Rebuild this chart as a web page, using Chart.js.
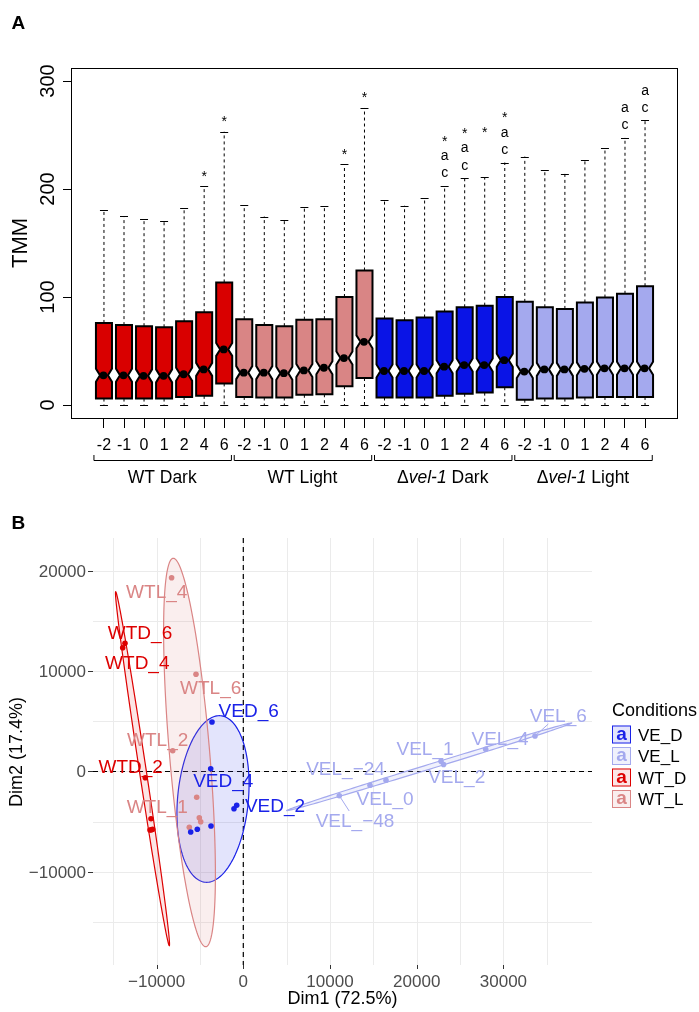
<!DOCTYPE html>
<html><head><meta charset="utf-8">
<script src="https://cdn.jsdelivr.net/npm/chart.js@4.4.1/dist/chart.umd.min.js"></script>
<style>
html,body{margin:0;padding:0;background:#fff;overflow:hidden;}
#ca{position:absolute;left:0;top:0;}
#cb{position:absolute;left:0;top:500px;}
</style></head><body>
<canvas id="ca" width="699" height="500" style="width:699px;height:500px"></canvas>
<canvas id="cb" width="699" height="512" style="width:699px;height:512px"></canvas>
<script>
const FONT = '"Liberation Sans", Arial, Helvetica, sans-serif';

// ---------------- Panel A data ----------------
const groupNames = ["WT Dark", "WT Light", "Δvel-1 Dark", "Δvel-1 Light"];
const timePoints = ["-2", "-1", "0", "1", "2", "4", "6"];
const boxQ1 = [6, 6, 6, 6, 7.5, 8.5, 20,  7.5, 7, 7, 9.5, 10, 17.5, 25,  7, 7, 7, 8.5, 10.5, 11.5, 16.5,  5, 6, 6, 7, 7.5, 7.5, 7.5];
const boxMedian = [27.5, 27.5, 27, 27, 28.5, 33, 51.5,  30, 30, 29.5, 32, 34.5, 43.5, 58.5,  31.5, 31.5, 31.5, 35.5, 37, 37, 41.5,  31, 33, 33, 33.5, 34, 34, 34];
const boxQ3 = [76, 74, 73, 72, 77.5, 86, 113.5,  79.5, 74, 73, 79, 79.5, 100, 124.5,  80, 78.5, 81, 86.5, 90.5, 92, 100,  95.5, 90.5, 89, 95, 99.5, 103, 110];
const whiskerLow = [0, 0, 0, 0, 0, 0, 0,  0, 0, 0, 0, 0, 0, 0,  0, 0, 0, 0, 0, 0, 0,  0, 0, 0, 0, 0, 0, 0];
const whiskerHigh = [181, 175, 172.5, 170.5, 182, 202.5, 253,  185, 174.5, 171.5, 183.5, 184, 223, 275,  190, 184.5, 191.5, 203, 210, 211, 224.5,  230, 217.5, 214, 226.5, 237.5, 247.5, 263.5];
const sigLabels = ["", "", "", "", "", "*", "*",  "", "", "", "", "", "*", "*",  "", "", "", "*\na\nc", "*\na\nc", "*\n\n", "*\na\nc",  "", "", "", "", "", "a\nc", "a\nc"];
const yTicksA = [0, 100, 200, 300];
const boxColors = ["#D90000", "#D98585", "#0A14E6", "#A4A9EE"];

// ---------------- Panel B data ----------------
const conditions = ["VE_D", "VE_L", "WT_D", "WT_L"];
const condColors = ["#1A22E8", "#A4A9EE", "#DD0000", "#DA8585"];
const condFills = ["rgba(26,34,232,0.12)", "rgba(164,169,238,0.16)", "rgba(221,0,0,0.10)", "rgba(218,133,133,0.14)"];

const vedNames = ["VED_6", "VED_4", "VED_2", "", "", "", ""];
const vedX = [-3610, -3760, -761, -1073, -3726, -5306, -6067];
const vedY = [4925, 279, -3363, -3701, -5423, -5751, -6020];
const vedLabelX = [623, -2307, 3656, null, null, null, null];
const vedLabelY = [6050, -915, -3333, null, null, null, null];

const velNames = ["VEL_\u221248", "VEL_\u221224", "VEL_0", "VEL_1", "VEL_2", "VEL_4", "VEL_6"];
const velX = [11073, 14614, 16459, 22803, 23100, 27958, 33645];
const velY = [-2408, -1373, -876, 1015, 700, 2209, 3532];
const velLabelX = [12884, 11788, 16344, 20957, 24614, 29608, 36332];
const velLabelY = [-4826, 318, -2667, 2308, -517, 3303, 5622];
const velLeader = [true, false, false, false, false, false, true];

const wtdNames = ["WTD_6", "WTD_4", "WTD_2", "", "", "", ""];
const wtdX = [-13645, -13910, -11303, -10646, -10761, -10450, -10600];
const wtdY = [12756, 12318, -617, -4697, -5821, -5751, -5800];
const wtdLabelX = [-11915, -12226, -12987, null, null, null, null];
const wtdLabelY = [13910, 10925, 547, null, null, null, null];

const wtlNames = ["WTL_4", "WTL_6", "WTL_2", "WTL_1", "", "", ""];
const wtlX = [-8270, -5456, -8143, -5375, -5075, -4913, -6228];
const wtlY = [19284, 9672, 2070, -2567, -4597, -4995, -5552];
const wtlLabelX = [-9988, -3760, -9873, -9919, null, null, null];
const wtlLabelY = [17891, 8438, 3204, -3502, null, null, null];

// confidence ellipses: centre, conjugate semi-diameters U and V (data units)
const ellipseCX = [-3495, 21442, -11626, -6205];
const ellipseCY = [-2736, 468, 279, 1891];
const ellipseUX = [727, 16436, -3091, -1869];
const ellipseUY = [8289, 4358, 17612, 19323];
const ellipseVX = [4095, 0, 400, 2330];
const ellipseVY = [0, 250, 0, 0];

const xMajorB = [-10000, 0, 10000, 20000, 30000];
const xMinorB = [-15000, -5000, 5000, 15000, 25000, 35000];
const yMajorB = [-10000, 0, 10000, 20000];
const yMinorB = [-15000, -5000, 5000, 15000];

// ---------------- Panel A ----------------
function textCenterY(ctx, txt, cy) {
  const m = ctx.measureText(txt);
  return cy + (m.actualBoundingBoxAscent - m.actualBoundingBoxDescent) / 2;
}

const boxPlugin = {
  id: 'boxes',
  beforeDatasetsDraw(chart) {
    const {ctx, scales: {x, y}, chartArea: ca} = chart;
    ctx.save();
    const hw = x.getPixelForValue(1.4) - x.getPixelForValue(1);
    const sw = 3.5;
    for (let i = 0; i < boxMedian.length; i++) {
      const cx = x.getPixelForValue(i + 1);
      const col = boxColors[Math.floor(i / 7)];
      const pq1 = y.getPixelForValue(boxQ1[i]);
      const pq3 = y.getPixelForValue(boxQ3[i]);
      const pm = y.getPixelForValue(boxMedian[i]);
      const pwh = y.getPixelForValue(whiskerHigh[i]);
      const pwl = y.getPixelForValue(whiskerLow[i]);
      ctx.strokeStyle = '#000';
      ctx.lineWidth = 1;
      ctx.setLineDash([3, 3]);
      ctx.beginPath();
      ctx.moveTo(cx + 0.5, pq3); ctx.lineTo(cx + 0.5, pwh);
      ctx.moveTo(cx + 0.5, pq1); ctx.lineTo(cx + 0.5, pwl);
      ctx.stroke();
      ctx.setLineDash([]);
      ctx.beginPath();
      ctx.moveTo(cx - sw, Math.round(pwh) + 0.5); ctx.lineTo(cx + sw + 1, Math.round(pwh) + 0.5);
      ctx.moveTo(cx - sw, Math.round(pwl) + 0.5); ctx.lineTo(cx + sw + 1, Math.round(pwl) + 0.5);
      ctx.stroke();
      const nh = 6.5;
      const l = cx - hw + 0.5, r = cx + hw + 0.5, nw = hw / 2;
      ctx.beginPath();
      ctx.moveTo(l, pq3); ctx.lineTo(r, pq3);
      ctx.lineTo(r, pm - nh); ctx.lineTo(r - nw, pm); ctx.lineTo(r, pm + nh);
      ctx.lineTo(r, pq1); ctx.lineTo(l, pq1);
      ctx.lineTo(l, pm + nh); ctx.lineTo(l + nw, pm); ctx.lineTo(l, pm - nh);
      ctx.closePath();
      ctx.fillStyle = col;
      ctx.fill();
      ctx.lineWidth = 2;
      ctx.lineJoin = 'miter';
      ctx.strokeStyle = '#000';
      ctx.stroke();
      if (sigLabels[i]) {
        const lines = sigLabels[i].split('\n');
        ctx.font = '14px ' + FONT;
        ctx.fillStyle = '#000';
        ctx.textAlign = 'center';
        for (let k = 0; k < lines.length; k++) {
          const t = lines[lines.length - 1 - k];
          if (!t) continue;
          const cyc = pwh - 12.5 - k * 17.3;
          ctx.textBaseline = 'alphabetic';
          ctx.fillText(t, cx + 0.5, textCenterY(ctx, t, cyc));
        }
      }
    }
    ctx.restore();
  },
  afterDraw(chart) {
    const {ctx, scales: {x, y}, chartArea: ca} = chart;
    ctx.save();
    ctx.strokeStyle = '#000';
    ctx.lineWidth = 1;
    ctx.strokeRect(ca.left + 0.5, ca.top + 0.5, ca.right - ca.left, ca.bottom - ca.top);
    ctx.fillStyle = '#000';
    ctx.beginPath();
    yTicksA.forEach(v => {
      const py = Math.round(y.getPixelForValue(v)) + 0.5;
      ctx.moveTo(ca.left - 8, py); ctx.lineTo(ca.left, py);
    });
    ctx.stroke();
    ctx.font = '20px ' + FONT;
    ctx.textAlign = 'center';
    ctx.textBaseline = 'alphabetic';
    yTicksA.forEach(v => {
      const py = y.getPixelForValue(v);
      ctx.save();
      ctx.translate(53.5, py);
      ctx.rotate(-Math.PI / 2);
      ctx.fillText(String(v), 0, 0);
      ctx.restore();
    });
    ctx.save();
    ctx.font = '22px ' + FONT;
    ctx.translate(27, (ca.top + ca.bottom) / 2);
    ctx.rotate(-Math.PI / 2);
    ctx.fillText('TMM', 0, 0);
    ctx.restore();
    ctx.beginPath();
    for (let i = 0; i < boxMedian.length; i++) {
      const px = Math.round(x.getPixelForValue(i + 1)) + 0.5;
      ctx.moveTo(px, ca.bottom); ctx.lineTo(px, ca.bottom + 10);
    }
    ctx.stroke();
    ctx.font = '16px ' + FONT;
    ctx.textAlign = 'center';
    for (let i = 0; i < boxMedian.length; i++) {
      const px = x.getPixelForValue(i + 1);
      ctx.fillText(timePoints[i % 7], px + 0.5, 449.5);
    }
    groupNames.forEach((g, gi) => {
      const a = x.getPixelForValue(gi * 7 + 1 - 0.5);
      const b = x.getPixelForValue(gi * 7 + 7 + 0.36);
      ctx.beginPath();
      ctx.moveTo(a + 0.5, 455); ctx.lineTo(a + 0.5, 460.5); ctx.lineTo(b + 0.5, 460.5); ctx.lineTo(b + 0.5, 455);
      ctx.stroke();
      const mid = (a + b) / 2;
      const m = g.match(/^(Δ)(vel-1)(.*)$/);
      let parts;
      if (m) parts = [[m[1], ''], [m[2], 'italic '], [m[3], '']];
      else parts = [[g, '']];
      const fs = '17.5px ';
      let total = 0;
      parts.forEach(p => { ctx.font = p[1] + fs + FONT; total += ctx.measureText(p[0]).width; });
      let cx = mid - total / 2;
      ctx.textAlign = 'left';
      parts.forEach(p => { ctx.font = p[1] + fs + FONT; ctx.fillText(p[0], cx, 482.5); cx += ctx.measureText(p[0]).width; });
      ctx.textAlign = 'center';
    });
    ctx.font = 'bold 19px ' + FONT;
    ctx.textAlign = 'left';
    ctx.fillText('A', 11.5, 28.5);
    ctx.restore();
  }
};

new Chart(document.getElementById('ca'), {
  type: 'scatter',
  data: {
    datasets: [{
      data: boxMedian.map((m, i) => ({x: i + 1, y: m})),
      pointRadius: 3.9,
      pointBackgroundColor: '#000',
      pointBorderWidth: 0
    }]
  },
  options: {
    responsive: false, animation: false, devicePixelRatio: 1, events: [],
    layout: {padding: {left: 71, top: 68, right: 22, bottom: 82}},
    plugins: {legend: {display: false}, tooltip: {enabled: false}},
    scales: {
      x: {type: 'linear', min: -0.62, max: 29.62, display: false},
      y: {type: 'linear', min: -12, max: 312, display: false}
    }
  },
  plugins: [boxPlugin]
});

// ---------------- Panel B ----------------
const pcaNames = [vedNames, velNames, wtdNames, wtlNames];
const pcaX = [vedX, velX, wtdX, wtlX];
const pcaY = [vedY, velY, wtdY, wtlY];
const pcaLX = [vedLabelX, velLabelX, wtdLabelX, wtlLabelX];
const pcaLY = [vedLabelY, velLabelY, wtdLabelY, wtlLabelY];

function fmt(v) { return v < 0 ? '\u2212' + Math.abs(v) : String(v); }

const pcaPlugin = {
  id: 'pca',
  beforeDatasetsDraw(chart) {
    const {ctx, scales: {x, y}, chartArea: ca} = chart;
    ctx.save();
    ctx.strokeStyle = '#EBEBEB';
    ctx.lineWidth = 1;
    ctx.beginPath();
    xMinorB.concat(xMajorB).forEach(v => {
      const px = Math.round(x.getPixelForValue(v)) + 0.5;
      ctx.moveTo(px, ca.top); ctx.lineTo(px, ca.bottom);
    });
    yMinorB.concat(yMajorB).forEach(v => {
      const py = Math.round(y.getPixelForValue(v)) + 0.5;
      ctx.moveTo(ca.left, py); ctx.lineTo(ca.right, py);
    });
    ctx.stroke();
    ctx.strokeStyle = '#000';
    ctx.lineWidth = 1.2;
    ctx.setLineDash([5, 4]);
    ctx.beginPath();
    const x0 = x.getPixelForValue(0), y0 = y.getPixelForValue(0);
    ctx.moveTo(x0, ca.top); ctx.lineTo(x0, ca.bottom);
    ctx.moveTo(ca.left, y0); ctx.lineTo(ca.right, y0);
    ctx.stroke();
    ctx.setLineDash([]);
    for (let g = 0; g < 4; g++) {
      ctx.beginPath();
      for (let s = 0; s <= 180; s++) {
        const t = s / 180 * Math.PI * 2;
        const dx = ellipseCX[g] + ellipseUX[g] * Math.cos(t) + ellipseVX[g] * Math.sin(t);
        const dy = ellipseCY[g] + ellipseUY[g] * Math.cos(t) + ellipseVY[g] * Math.sin(t);
        const px = x.getPixelForValue(dx), py = y.getPixelForValue(dy);
        if (s === 0) ctx.moveTo(px, py); else ctx.lineTo(px, py);
      }
      ctx.closePath();
      ctx.fillStyle = condFills[g];
      ctx.fill();
      ctx.strokeStyle = condColors[g];
      ctx.lineWidth = 1.2;
      ctx.stroke();
    }
    ctx.restore();
  },
  afterDatasetsDraw(chart) {
    const {ctx, scales: {x, y}, chartArea: ca} = chart;
    ctx.save();
    const fs = 19;
    ctx.font = fs + 'px ' + FONT;
    ctx.textAlign = 'center';
    ctx.textBaseline = 'alphabetic';
    for (let g = 0; g < 4; g++) {
      for (let i = 0; i < pcaNames[g].length; i++) {
        const name = pcaNames[g][i];
        if (!name || pcaLX[g][i] === null) continue;
        const lx = x.getPixelForValue(pcaLX[g][i]), ly = y.getPixelForValue(pcaLY[g][i]);
        if (g === 1 && velLeader[i]) {
          const px = x.getPixelForValue(pcaX[g][i]), py = y.getPixelForValue(pcaY[g][i]);
          const w = ctx.measureText(name).width / 2 + 2, h = 9;
          const dx = lx - px, dy = ly - py;
          const ty = dy !== 0 ? (Math.abs(dy) - h) / Math.abs(dy) : 1;
          const tx = dx !== 0 ? (Math.abs(dx) - w) / Math.abs(dx) : 1;
          const tmin = Math.max(Math.min(Math.max(tx, ty), 1), 0);
          ctx.strokeStyle = condColors[g];
          ctx.lineWidth = 1;
          ctx.beginPath();
          ctx.moveTo(px, py); ctx.lineTo(px + dx * tmin, py + dy * tmin);
          ctx.stroke();
        }
        ctx.fillStyle = condColors[g];
        ctx.fillText(name, lx, ly + 0.358 * fs);
      }
    }
    ctx.fillStyle = '#4D4D4D';
    ctx.strokeStyle = '#333';
    ctx.lineWidth = 1;
    ctx.font = '17px ' + FONT;
    ctx.textAlign = 'right';
    ctx.beginPath();
    yMajorB.forEach(v => {
      const py = y.getPixelForValue(v);
      ctx.fillText(fmt(v), 86, py + 6);
      ctx.moveTo(ca.left - 5, Math.round(py) + 0.5); ctx.lineTo(ca.left, Math.round(py) + 0.5);
    });
    ctx.textAlign = 'center';
    xMajorB.forEach(v => {
      const px = x.getPixelForValue(v);
      ctx.fillText(fmt(v), px, 486.5);
      ctx.moveTo(Math.round(px) + 0.5, ca.bottom); ctx.lineTo(Math.round(px) + 0.5, ca.bottom + 4);
    });
    ctx.stroke();
    ctx.fillStyle = '#000';
    ctx.font = '18px ' + FONT;
    ctx.fillText('Dim1 (72.5%)', (ca.left + ca.right) / 2, 504);
    ctx.save();
    ctx.translate(22, 252);
    ctx.rotate(-Math.PI / 2);
    ctx.fillText('Dim2 (17.4%)', 0, 0);
    ctx.restore();
    ctx.textAlign = 'left';
    ctx.font = '18px ' + FONT;
    ctx.fillText('Conditions', 612, 216);
    conditions.forEach((c, i) => {
      const cy = 234.5 + 21.5 * i;
      ctx.fillStyle = '#fff';
      ctx.fillRect(612, cy - 9, 19, 18);
      ctx.fillStyle = condFills[i];
      ctx.fillRect(612, cy - 9, 19, 18);
      ctx.strokeStyle = condColors[i];
      ctx.lineWidth = 1;
      ctx.strokeRect(612.5, cy - 8.5, 18, 17);
      ctx.fillStyle = condColors[i];
      ctx.font = 'bold 19px ' + FONT;
      ctx.textAlign = 'center';
      ctx.fillText('a', 621.5, cy + 5);
      ctx.fillStyle = '#000';
      ctx.font = '17px ' + FONT;
      ctx.textAlign = 'left';
      ctx.fillText(c, 638, cy + 6);
    });
    ctx.font = 'bold 19px ' + FONT;
    ctx.fillText('B', 11.5, 29);
    ctx.restore();
  }
};

new Chart(document.getElementById('cb'), {
  type: 'scatter',
  data: {
    datasets: conditions.map((c, g) => ({
      label: c,
      data: pcaX[g].map((v, i) => ({x: v, y: pcaY[g][i]})),
      pointRadius: 2.8,
      pointBackgroundColor: condColors[g],
      pointBorderWidth: 0
    }))
  },
  options: {
    responsive: false, animation: false, devicePixelRatio: 1, events: [],
    layout: {padding: {left: 93, top: 38, right: 107, bottom: 47}},
    plugins: {legend: {display: false}, tooltip: {enabled: false}},
    scales: {
      x: {type: 'linear', min: -17336, max: 40219, display: false},
      y: {type: 'linear', min: -19254, max: 23234, display: false}
    }
  },
  plugins: [pcaPlugin]
});
</script>
</body></html>
